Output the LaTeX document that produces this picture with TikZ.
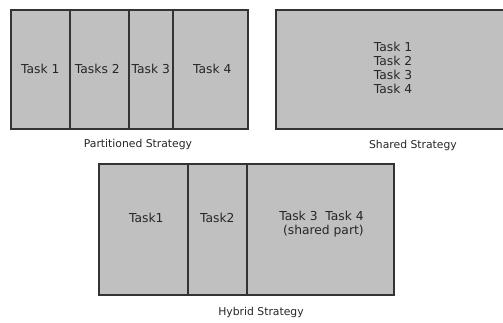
\documentclass[tikz,border=0pt]{standalone}
\usepackage{fontspec}
\setmainfont{DejaVu Sans}
\definecolor{cellfill}{HTML}{C0C0C0}
\definecolor{cellline}{HTML}{333333}
\begin{document}
\begin{tikzpicture}[x=1pt,y=-1pt,
  cell/.style={draw=cellline,fill=cellfill,line width=1.6pt,rectangle,inner sep=0pt,anchor=north west},
  celltext/.style={font=\fontsize{12.3}{14}\selectfont,text=black!85,inner sep=0pt},
  caption/.style={font=\fontsize{10.8}{12}\selectfont,text=black!85,inner sep=0pt}]
\useasboundingbox (0,0) rectangle (503,322);
% Partitioned
\node[cell,minimum width=59pt,minimum height=119pt] (p1) at (10,9) {};
\node[cell,minimum width=59pt,minimum height=119pt] (p2) at (69,9) {};
\node[cell,minimum width=44pt,minimum height=119pt] (p3) at (128,9) {};
\node[cell,minimum width=75pt,minimum height=119pt] (p4) at (172,9) {};
\node[celltext] (t1) at (p1.center) {Task 1};
\node[celltext] (t2) at ([xshift=-2pt]p2.center) {Tasks 2};
\node[celltext] (t3) at (p3.center) {Task 3};
\node[celltext] (t4) at ([xshift=2pt]p4.center) {Task 4};
\node[caption] (cp) at (138,145) {Partitioned Strategy};
% Shared
\node[cell,minimum width=236pt,minimum height=119pt] (s) at (275,9) {};
\node[celltext,align=center] (st) at (393,68) {Task 1\\Task 2\\Task 3\\Task 4};
\node[caption] (cs) at (413,146) {Shared Strategy};
% Hybrid
\node[cell,minimum width=89pt,minimum height=131pt] (h1) at (98,163) {};
\node[cell,minimum width=59pt,minimum height=131pt] (h2) at (187,163) {};
\node[cell,minimum width=147pt,minimum height=131pt] (h3) at (246,163) {};
\node[celltext] (ht1) at ([xshift=3pt]h1.center |- 0,218) {Task1};
\node[celltext] (ht2) at (h2.center |- 0,218) {Task2};
\node[celltext,align=right] (ht3) at (321.5,224.5) {Task 3~~Task 4\\(shared part)};
\node[caption] (ch) at (261,313) {Hybrid Strategy};
\end{tikzpicture}
\end{document}
